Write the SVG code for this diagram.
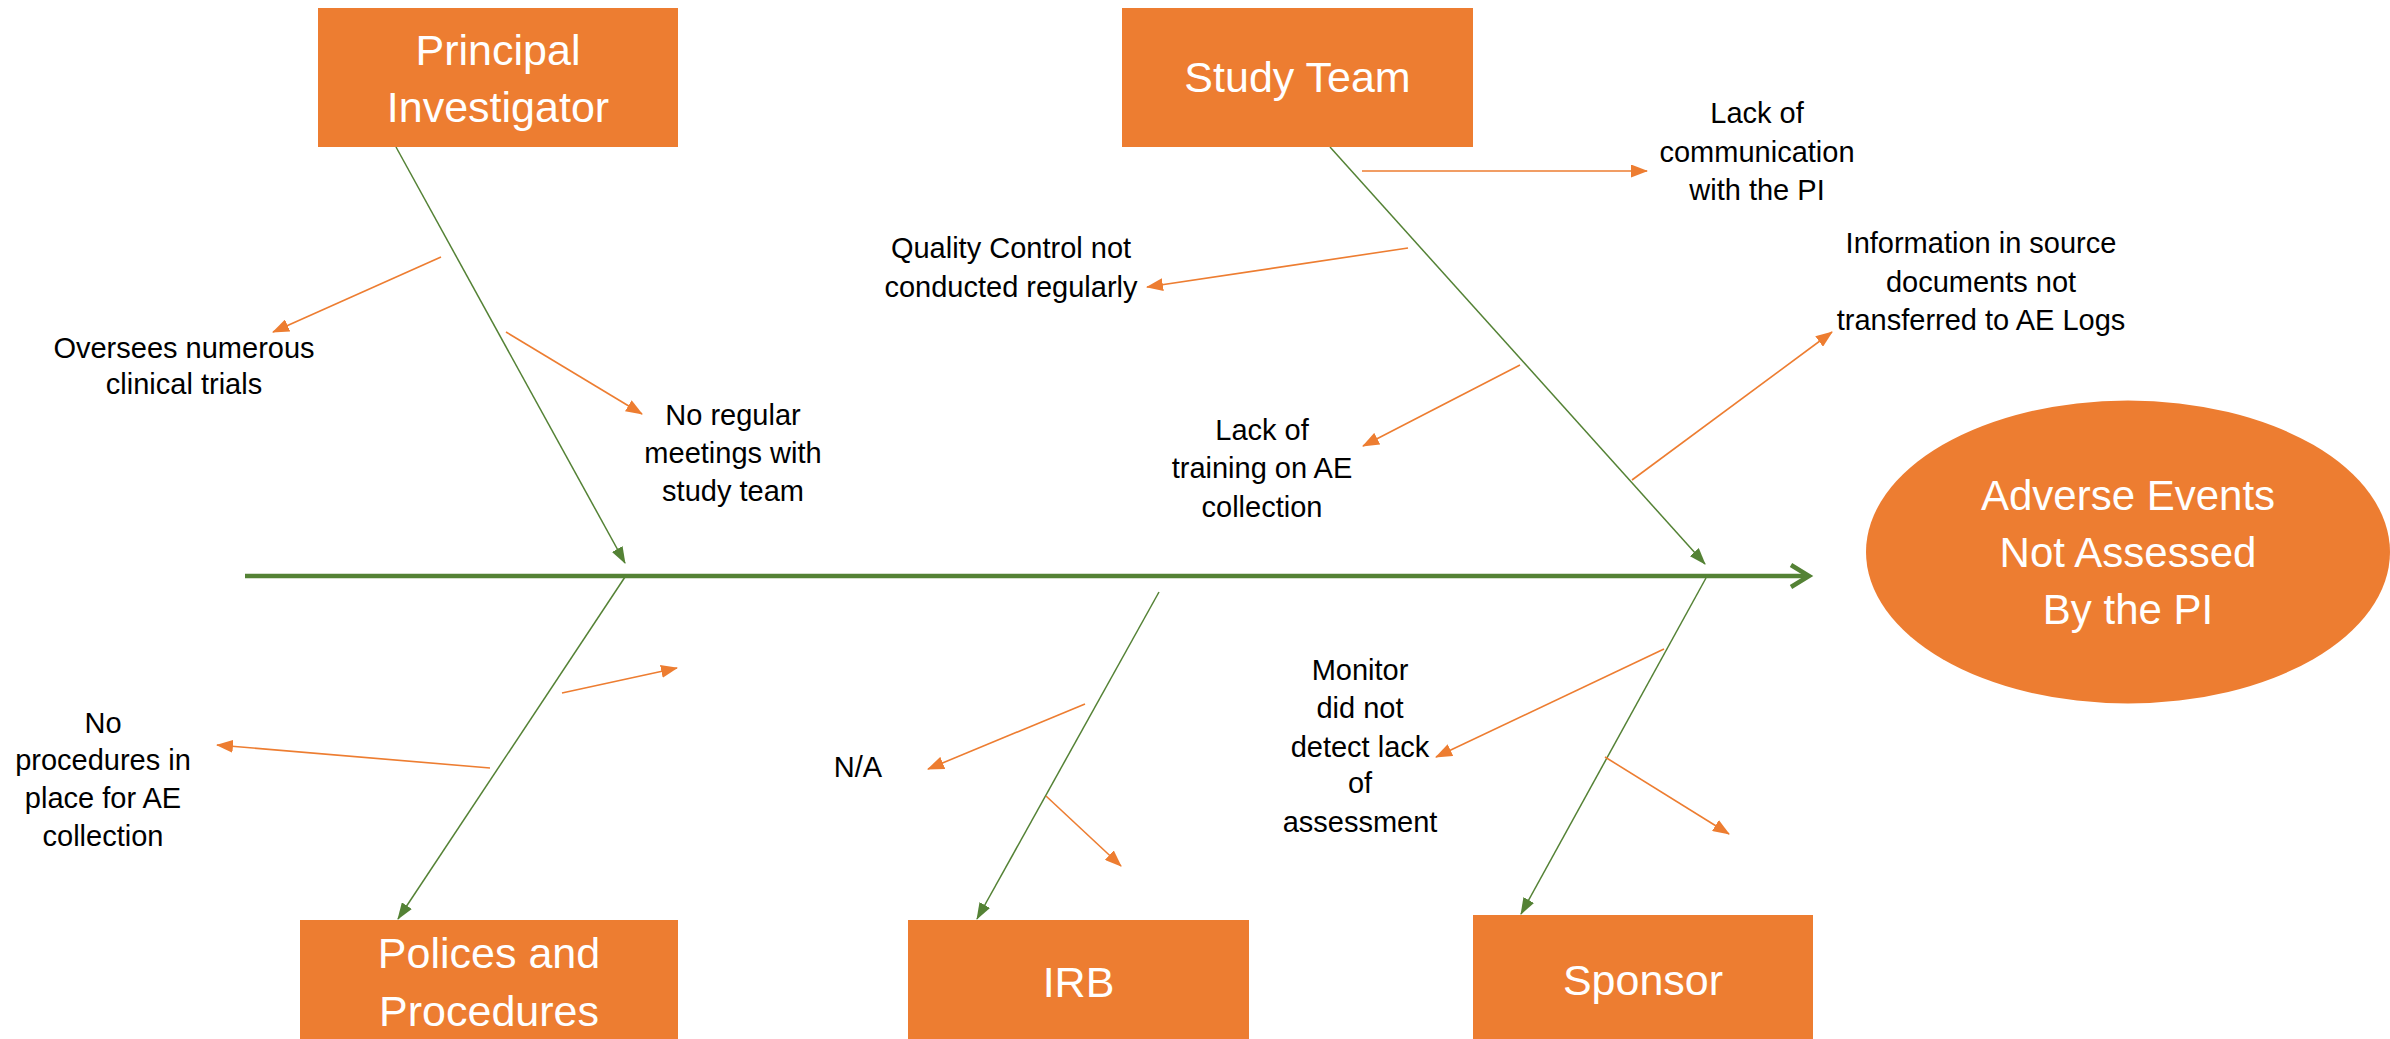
<svg xmlns="http://www.w3.org/2000/svg" width="2390" height="1039" viewBox="0 0 2390 1039">
<style>
.box{fill:#ED7D31;}
.nt{font-family:"Liberation Sans",Arial,sans-serif;font-size:43px;fill:#FFFFFF;text-anchor:middle;}
.lb{font-family:"Liberation Sans",Arial,sans-serif;font-size:29px;fill:#000000;text-anchor:middle;}
.bone{stroke:#548235;stroke-width:1.5;fill:none;marker-end:url(#gh);}
.cause{stroke:#ED7D31;stroke-width:1.6;fill:none;marker-end:url(#oh);}
.spine{stroke:#548235;stroke-width:4.5;fill:none;}
</style>
<defs>
<marker id="oh" markerUnits="userSpaceOnUse" markerWidth="17" markerHeight="13" viewBox="0 0 17 13" refX="16" refY="6.5" orient="auto">
<path d="M0,0 L17,6.5 L0,13 z" fill="#ED7D31"/>
</marker>
<marker id="gh" markerUnits="userSpaceOnUse" markerWidth="17" markerHeight="12" viewBox="0 0 17 12" refX="16" refY="6" orient="auto">
<path d="M0,0 L17,6 L0,12 z" fill="#548235"/>
</marker>
</defs>
<rect width="2390" height="1039" fill="#FFFFFF"/>

<g id="connectors">
<line class="spine" x1="245" y1="576" x2="1808" y2="576"/>
<polyline class="spine" points="1791,565 1809,576 1791,587" stroke-linejoin="miter"/>
<line class="bone" x1="396" y1="147" x2="625" y2="563"/>
<line class="bone" x1="1330" y1="147" x2="1705" y2="564"/>
<line class="bone" x1="625" y1="577" x2="398" y2="919"/>
<line class="bone" x1="1159" y1="592" x2="977" y2="919"/>
<line class="bone" x1="1706" y1="578" x2="1521" y2="914"/>
<line class="cause" x1="441" y1="257" x2="273" y2="332"/>
<line class="cause" x1="506" y1="332" x2="642" y2="414"/>
<line class="cause" x1="1362" y1="171" x2="1647" y2="171"/>
<line class="cause" x1="1408" y1="248" x2="1147" y2="287"/>
<line class="cause" x1="1520" y1="365" x2="1363" y2="446"/>
<line class="cause" x1="1632" y1="480" x2="1832" y2="332"/>
<line class="cause" x1="562" y1="693" x2="677" y2="668"/>
<line class="cause" x1="490" y1="768" x2="217" y2="745"/>
<line class="cause" x1="1085" y1="704" x2="928" y2="769"/>
<line class="cause" x1="1046" y1="796" x2="1121" y2="866"/>
<line class="cause" x1="1664" y1="649" x2="1436" y2="757"/>
<line class="cause" x1="1605" y1="757" x2="1729" y2="834"/>
</g>

<g id="node-pi">
<rect class="box" x="318" y="8" width="360" height="139"/>
<text class="nt" x="498" y="65">Principal</text>
<text class="nt" x="498" y="122">Investigator</text>
</g>
<g id="node-study-team">
<rect class="box" x="1122" y="8" width="351" height="139"/>
<text class="nt" x="1297.5" y="92">Study Team</text>
</g>
<g id="node-policies">
<rect class="box" x="300" y="920" width="378" height="119"/>
<text class="nt" x="489" y="968">Polices and</text>
<text class="nt" x="489" y="1026">Procedures</text>
</g>
<g id="node-irb">
<rect class="box" x="908" y="920" width="341" height="119"/>
<text class="nt" x="1078.5" y="997">IRB</text>
</g>
<g id="node-sponsor">
<rect class="box" x="1473" y="915" width="340" height="124"/>
<text class="nt" x="1643" y="995">Sponsor</text>
</g>
<g id="node-effect">
<ellipse class="box" cx="2128" cy="552" rx="262" ry="151.5"/>
<text class="nt" x="2128" y="510" style="font-size:42px">Adverse Events</text>
<text class="nt" x="2128" y="567" style="font-size:42px">Not Assessed</text>
<text class="nt" x="2128" y="624" style="font-size:42px">By the PI</text>
</g>

<g id="label-oversees">
<text class="lb" x="184" y="358">Oversees numerous</text>
<text class="lb" x="184" y="394">clinical trials</text>
</g>
<g id="label-meetings">
<text class="lb" x="733" y="425">No regular</text>
<text class="lb" x="733" y="463">meetings with</text>
<text class="lb" x="733" y="501">study team</text>
</g>
<g id="label-communication">
<text class="lb" x="1757" y="123">Lack of</text>
<text class="lb" x="1757" y="162">communication</text>
<text class="lb" x="1757" y="200">with the PI</text>
</g>
<g id="label-qc">
<text class="lb" x="1011" y="258">Quality Control not</text>
<text class="lb" x="1011" y="297">conducted regularly</text>
</g>
<g id="label-source">
<text class="lb" x="1981" y="253">Information in source</text>
<text class="lb" x="1981" y="292">documents not</text>
<text class="lb" x="1981" y="330">transferred to AE Logs</text>
</g>
<g id="label-training">
<text class="lb" x="1262" y="440">Lack of</text>
<text class="lb" x="1262" y="478">training on AE</text>
<text class="lb" x="1262" y="517">collection</text>
</g>
<g id="label-procedures">
<text class="lb" x="103" y="733">No</text>
<text class="lb" x="103" y="770">procedures in</text>
<text class="lb" x="103" y="808">place for AE</text>
<text class="lb" x="103" y="846">collection</text>
</g>
<g id="label-na">
<text class="lb" x="858" y="777">N/A</text>
</g>
<g id="label-monitor">
<text class="lb" x="1360" y="680">Monitor</text>
<text class="lb" x="1360" y="718">did not</text>
<text class="lb" x="1360" y="757">detect lack</text>
<text class="lb" x="1360" y="793">of</text>
<text class="lb" x="1360" y="832">assessment</text>
</g>
</svg>
